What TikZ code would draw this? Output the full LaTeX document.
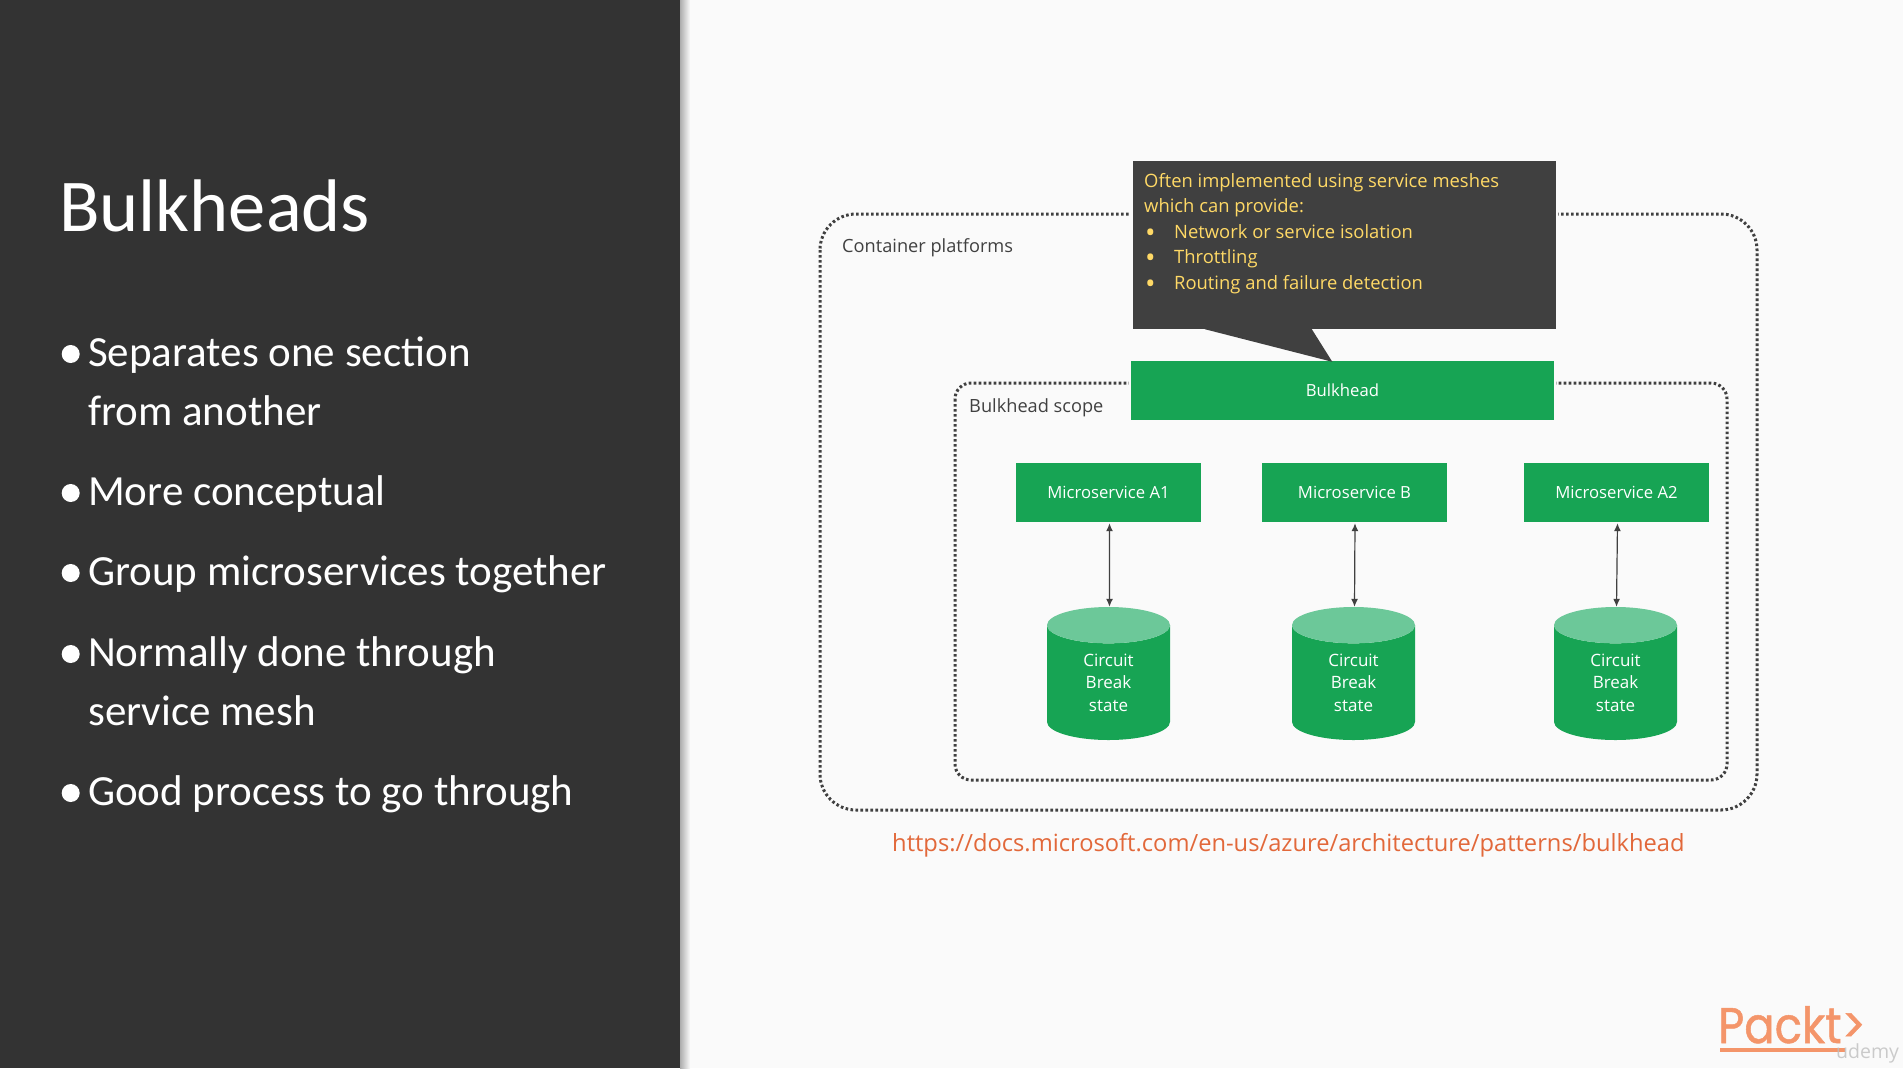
\documentclass[tikz,border=0pt]{standalone}
\usepackage{fontspec}
\usetikzlibrary{shapes.geometric,arrows.meta,calc}
\setmainfont{Open Sans}
\newfontfamily\carl{Carlito}
\newfontfamily\logof{Poppins}[FakeStretch=0.9,FakeBold=1]
\definecolor{bg}{HTML}{FAFAFA}
\definecolor{panel}{HTML}{333333}
\definecolor{callfill}{HTML}{404040}
\definecolor{calltext}{HTML}{FFD966}
\definecolor{grn}{HTML}{17A454}
\definecolor{grnlight}{HTML}{6CC899}
\definecolor{ink}{HTML}{404040}
\definecolor{urlc}{HTML}{E2683A}
\definecolor{logoc}{HTML}{F4956A}
\newcommand{\callbul}{\makebox[30pt][l]{\raisebox{-4pt}{\hspace{1pt}\fontsize{28}{25.5}\selectfont\textbullet}}}
\tikzset{
  frame/.style={draw=ink,line width=3pt,dash pattern=on 2.6pt off 2.4pt,fill=none},
  gbox/.style={fill=grn,text=white,inner sep=0pt,font=\fontsize{16.7}{20}\selectfont,preaction={draw=bg,line width=4pt}},
  msbox/.style={gbox,minimum width=185pt,minimum height=59pt},
  db/.style={shape=cylinder,anchor=shape center,shape border rotate=90,aspect=0.72,minimum width=123pt,minimum height=133pt,inner sep=0pt,
     cylinder uses custom fill,cylinder body fill=grn,cylinder end fill=grnlight,text=white,align=center,
     font=\fontsize{17}{22.5}\selectfont},
  link/.style={draw=ink,line width=1.2pt,{Latex[length=8pt,width=7pt]}-{Latex[length=8pt,width=7pt]},shorten <=1pt},
  lab/.style={anchor=base west,text=ink,inner sep=0pt,font=\fontsize{18.2}{20}\selectfont},
  side/.style={anchor=base west,text=white,inner sep=0pt,align=left,font=\carl\fontsize{43}{59}\selectfont},
  dotb/.style={circle,fill=white,minimum size=18pt,inner sep=0pt},
}
\begin{document}
\begin{tikzpicture}[x=1pt,y=-1pt]
\useasboundingbox (0,0) rectangle (1903,1068);
\fill[bg] (0,0) rectangle (1903,1068);
\shade[left color=black!32,right color=bg] (680,0) rectangle (690,1068);
\fill[panel] (0,0) rectangle (680,1068);
\node[anchor=base west,text=white,inner sep=0pt,font=\carl\fontsize{74.5}{80}\selectfont] (title) at (59,231) {Bulkheads};
\foreach \n/\yy in {a/354,b/493,c/573,d/654,e/793}{\node[dotb] (bul\n) at (70.7,\yy) {};}
\node[side] (s1a) at (88,366) {Separates one section};
\node[side] (s1b) at (88,425) {from another};
\node[side] (s2) at (88,505) {More conceptual};
\node[side] (s3) at (88,585) {Group microservices together};
\node[side] (s4a) at (88,666) {Normally done through};
\node[side] (s4b) at (88,725) {service mesh};
\node[side] (s5) at (88,805) {Good process to go through};
% frames
\draw[frame] (820,214) [rounded corners=36pt] rectangle (1757,810);
\draw[frame] (955,383) [rounded corners=16pt] rectangle (1727,780);
\node[lab] (cp) at (842,252.5) {Container platforms};
\node[lab] (bs) at (969,412.5) {Bulkhead scope};
% bulkhead
\node[gbox,minimum width=423pt,minimum height=59pt,text height=14pt,text depth=1.6pt] (bulk) at (1342.5,390.5) {Bulkhead};
% callout
\node[fill=callfill,minimum width=423pt,minimum height=168pt,inner sep=0pt,preaction={draw=bg,line width=4pt}] (call) at (1344.5,245) {};
\coordinate (tip) at ($(bulk.north west)+(201.5,1)$);
\fill[callfill] ([xshift=72pt]call.south west) -- (tip) -- ([xshift=179pt]call.south west) -- cycle;
\node[anchor=north west,inner sep=0pt,text=calltext,align=left,font=\fontsize{18.4}{25.5}\selectfont] (calltxt) at (1144,173) {Often implemented using service meshes\\which can provide:\\\callbul Network or service isolation\\\callbul Throttling\\\callbul Routing and failure detection};
% microservices
\node[msbox] (a1) at (1108.5,492.5) {Microservice A1};
\node[msbox] (b) at (1354.5,492.5) {Microservice B};
\node[msbox] (a2) at (1616.5,492.5) {Microservice A2};
\node[db] (ca) at (1108.5,673.5) {Circuit\\Break\\state};
\node[db] (cb) at (1353.5,673.5) {Circuit\\Break\\state};
\node[db] (cc) at (1615.5,673.5) {Circuit\\Break\\state};
\draw[link] ([xshift=1pt]a1.south) -- ([xshift=1pt]ca.north);
\draw[link] ([xshift=.5pt]b.south) -- ([xshift=1pt]cb.north);
\draw[link] ([xshift=1pt]a2.south) -- ([xshift=1pt]cc.north);
% url
\node[anchor=base west,inner sep=0pt,text=urlc,font=\fontsize{23.7}{30}\selectfont] (url) at (892,851) {https://docs.microsoft.com/en-us/azure/architecture/patterns/bulkhead};
% logo
\node[anchor=base west,inner sep=0pt,text=logoc,font=\logof\fontsize{50}{50}\selectfont] (logo) at (1718,1043) {Packt>};
\fill[logoc] (1720,1048) rectangle (1845,1052);
\node[anchor=base west,inner sep=0pt,text=black!25,opacity=.8,font=\fontsize{19.5}{24}\selectfont] (ud) at (1836,1058) {udemy};
\end{tikzpicture}
\end{document}
